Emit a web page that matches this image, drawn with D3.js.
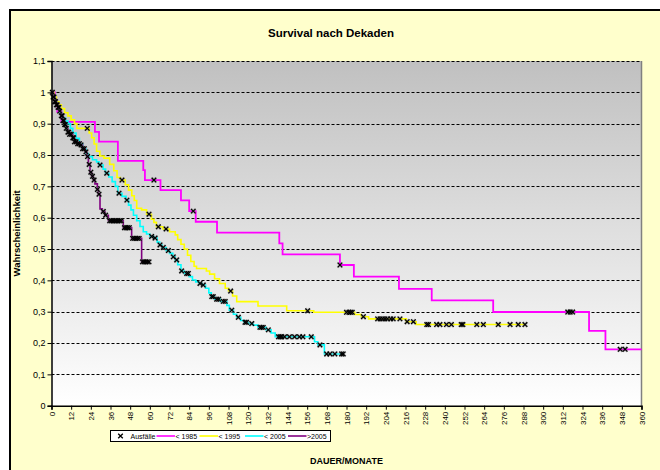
<!DOCTYPE html>
<html>
<head>
<meta charset="utf-8">
<script src="https://cdn.jsdelivr.net/npm/d3@7"></script>
<style>
  body { margin: 0; background: #fff; }
  svg { display: block; font-family: Arial, "Liberation Sans", sans-serif; }
</style>
</head>
<body>
<div id="chart"></div>
<script>
// Kaplan-Meier Stufen: Zeitpunkt (Monate) und Überleben danach
const t1985 = [0, 2, 3.5, 6, 26.5, 29, 40.5, 56, 57, 66.5, 79, 84, 88, 101, 139, 141, 176, 184.5, 212, 232, 269.5, 328, 338, 360];
const s1985 = [1, 0.969, 0.938, 0.906, 0.874, 0.843, 0.781, 0.752, 0.72, 0.688, 0.655, 0.621, 0.587, 0.552, 0.518, 0.483, 0.449, 0.412, 0.373, 0.336, 0.299, 0.239, 0.18, 0.18];
const c1985 = [62.5, 86.5, 176, 315, 316.5, 318, 347, 350];

const t1995 = [0, 1.5, 3, 4.5, 6, 8, 10, 12, 14, 15.5, 23, 24.5, 26, 27.5, 29.5, 32, 35.5, 38, 40, 42, 45, 47, 49, 50.5, 52, 55, 58, 61, 62.5, 64, 68, 72, 75.5, 77, 79, 81, 83, 85, 87, 88.5, 94.5, 96.5, 99.5, 102.5, 106, 108, 110.5, 113, 126, 143.5, 160, 185, 189, 193.5, 216.5, 222.5, 289];
const s1995 = [1, 0.985, 0.97, 0.96, 0.948, 0.935, 0.925, 0.912, 0.9, 0.885, 0.87, 0.855, 0.835, 0.812, 0.797, 0.79, 0.77, 0.75, 0.728, 0.72, 0.705, 0.688, 0.67, 0.655, 0.63, 0.625, 0.611, 0.595, 0.585, 0.571, 0.564, 0.555, 0.545, 0.53, 0.515, 0.5, 0.48, 0.46, 0.445, 0.438, 0.43, 0.42, 0.405, 0.39, 0.375, 0.366, 0.35, 0.332, 0.318, 0.303, 0.298, 0.291, 0.284, 0.277, 0.268, 0.259, 0.259];
const c1995 = [21.8, 43, 59.5, 65.2, 69.9, 109.3, 156.3, 180, 181.5, 182.5, 183.5, 190.3, 199, 200.5, 202, 203.5, 205, 207, 208.5, 212.6, 217, 220.8, 229, 230, 235, 237, 241, 244, 250, 251, 259.5, 263.5, 272.6, 279.8, 284.8, 288.9];

const t2005 = [0, 1, 2, 3, 4, 5, 6, 7, 8.5, 10, 11.5, 13, 15, 17, 19, 21, 22.5, 25, 27.5, 29, 31.5, 33, 35, 37, 39, 40.5, 43, 45.5, 47, 48.5, 50, 52, 54, 56, 58, 60, 62.5, 64.5, 66, 67.5, 70, 72, 74, 75.5, 77, 79, 81, 84, 86, 88, 90, 92, 94, 96, 97.5, 99.5, 103, 107, 108.5, 111, 113, 115.5, 117.5, 120, 123, 126, 131, 134, 136.5, 160.5, 162.5, 166.5, 178];
const s2005 = [1, 0.985, 0.972, 0.96, 0.948, 0.937, 0.928, 0.918, 0.908, 0.9, 0.885, 0.87, 0.853, 0.835, 0.82, 0.805, 0.795, 0.785, 0.778, 0.768, 0.755, 0.742, 0.73, 0.715, 0.7, 0.678, 0.668, 0.656, 0.64, 0.625, 0.608, 0.59, 0.572, 0.555, 0.548, 0.54, 0.535, 0.522, 0.513, 0.505, 0.495, 0.486, 0.475, 0.465, 0.45, 0.43, 0.422, 0.412, 0.401, 0.395, 0.39, 0.385, 0.375, 0.36, 0.348, 0.34, 0.333, 0.32, 0.305, 0.292, 0.282, 0.272, 0.266, 0.262, 0.257, 0.25, 0.242, 0.232, 0.22, 0.204, 0.194, 0.165, 0.165];
const c2005 = [29.6, 33.7, 41.2, 46, 61.1, 63.2, 66.2, 68.2, 71.3, 74.3, 76.4, 79.4, 82.5, 83.5, 90.6, 92.6, 97.8, 98.7, 100.8, 102, 104.8, 106, 110, 114, 118.1, 119, 122.2, 127.2, 128.2, 129.2, 132.3, 138.5, 139.5, 140.5, 142.2, 145.2, 148.3, 151.3, 153.4, 158.5, 163.8, 167.9, 169.9, 172.9, 177, 178];

const tNach = [0, 1, 2, 3, 4, 5, 6, 7, 8, 9, 10, 11, 13, 14, 16, 17.5, 19, 20.5, 21.5, 22.5, 23.5, 24.5, 25.5, 26.5, 28, 28.6, 29.6, 31, 32.6, 34.7, 43.8, 48.9, 55, 60.1];
const sNach = [1, 0.985, 0.97, 0.96, 0.952, 0.94, 0.925, 0.91, 0.897, 0.885, 0.873, 0.866, 0.855, 0.842, 0.836, 0.832, 0.82, 0.81, 0.795, 0.77, 0.745, 0.732, 0.72, 0.708, 0.69, 0.675, 0.628, 0.62, 0.608, 0.59, 0.568, 0.534, 0.459, 0.459];
const cNach = [0.5, 1, 1.5, 2, 2.5, 3, 3.5, 4, 4.5, 5, 6, 6.5, 7, 7.5, 8, 8.5, 9, 10, 10.5, 11, 12, 13, 13.5, 14, 15, 16, 17, 18, 19, 20, 21, 22, 23, 24, 25, 26, 28, 29, 31.6, 33, 35.5, 36.5, 37.5, 38.5, 39.5, 40.5, 41.5, 42.5, 44.5, 45.5, 46.5, 47.5, 49.5, 50.5, 51.5, 52.5, 53.5, 55.5, 56.5, 57.5, 58.5, 59.5];

const xTicks = d3.range(0, 361, 12);
const yTicks = [0, 0.1, 0.2, 0.3, 0.4, 0.5, 0.6, 0.7, 0.8, 0.9, 1, 1.1];

const series = [
  { name: '< 1985', t: t1985, s: s1985, cens: c1985, color: '#FF00FF', width: 1.8 },
  { name: '< 1995', t: t1995, s: s1995, cens: c1995, color: '#FFFF00', width: 1.6 },
  { name: '< 2005', t: t2005, s: s2005, cens: c2005, color: '#00FFFF', width: 1.6 },
  { name: '>2005', t: tNach, s: sNach, cens: cNach, color: '#800080', width: 1.6 },
];

// Wert der Treppenfunktion an Zeitpunkt t
function survAt(T, S, t) {
  let i = d3.bisectRight(T, t) - 1;
  if (i < 0) i = 0;
  return S[i];
}

const width = 660, height = 470;
const plot = { left: 51.5, right: 641.5, top: 61, bottom: 405.7 };

const svg = d3.select('#chart').append('svg')
  .attr('width', width)
  .attr('height', height);

// Diagrammfläche (rechts/unten abgeschnitten)
svg.append('rect')
  .attr('x', 10).attr('y', 10)
  .attr('width', 680).attr('height', 500)
  .attr('fill', '#FFFFCC')
  .attr('stroke', '#000')
  .attr('stroke-width', 2);

const grad = svg.append('defs').append('linearGradient')
  .attr('id', 'bg').attr('x1', 0).attr('y1', 0).attr('x2', 0).attr('y2', 1);
grad.append('stop').attr('offset', '0%').attr('stop-color', '#C0C0C0');
grad.append('stop').attr('offset', '100%').attr('stop-color', '#FFFFFF');

const xScale = d3.scaleLinear().domain([0, 360]).range([plot.left, plot.right]);
const yScale = d3.scaleLinear().domain([0, 1.1]).range([plot.bottom, plot.top]);

svg.append('rect')
  .attr('x', plot.left).attr('y', plot.top)
  .attr('width', plot.right - plot.left)
  .attr('height', plot.bottom - plot.top)
  .attr('fill', 'url(#bg)');

// Gitterlinien
svg.append('g')
  .selectAll('line')
  .data(yTicks.filter(d => d > 0))
  .join('line')
  .attr('x1', plot.left).attr('x2', plot.right)
  .attr('y1', d => Math.round(yScale(d)) + 0.5)
  .attr('y2', d => Math.round(yScale(d)) + 0.5)
  .attr('stroke', '#000')
  .attr('stroke-width', 1)
  .attr('stroke-dasharray', '3,2');

svg.append('line')
  .attr('x1', plot.right).attr('x2', plot.right)
  .attr('y1', plot.top).attr('y2', plot.bottom)
  .attr('stroke', '#808080').attr('stroke-width', 1.5);

// Kurven
const line = d3.line()
  .x(d => xScale(d[0]))
  .y(d => yScale(d[1]))
  .curve(d3.curveStepAfter);

const curves = svg.append('g');
series.forEach(sr => {
  curves.append('path')
    .datum(sr.t.map((t, i) => [t, sr.s[i]]))
    .attr('fill', 'none')
    .attr('stroke', sr.color)
    .attr('stroke-width', sr.width)
    .attr('d', line);
});

// Ausfälle (x-Markierungen), mit grauem Rand wie im Original
const cross = 'M-2.3,-2.3L2.3,2.3M-2.3,2.3L2.3,-2.3';
const marks = svg.append('g');
series.forEach(sr => {
  const pos = d => `translate(${xScale(d)},${yScale(survAt(sr.t, sr.s, d))})`;
  marks.selectAll(null)
    .data(sr.cens)
    .join('path')
    .attr('transform', pos)
    .attr('d', cross)
    .attr('fill', 'none')
    .attr('stroke', '#777')
    .attr('stroke-opacity', 0.45)
    .attr('stroke-width', 2.6);
  marks.selectAll(null)
    .data(sr.cens)
    .join('path')
    .attr('transform', pos)
    .attr('d', cross)
    .attr('fill', 'none')
    .attr('stroke', '#000')
    .attr('stroke-width', 1.2);
});

// Achsen
const yAxis = svg.append('g')
  .attr('transform', `translate(${plot.left},0)`)
  .call(d3.axisLeft(yScale).tickValues(yTicks).tickSize(4).tickPadding(2)
    .tickFormat(d => String(+d.toFixed(1)).replace('.', ',')));
yAxis.select('.domain').attr('stroke', '#000').attr('stroke-width', 1.5);
yAxis.selectAll('text').style('font-size', '9px').attr('fill', '#000')
  .style('font-family', 'Arial, "Liberation Sans", sans-serif');

const xAxis = svg.append('g')
  .attr('transform', `translate(0,${plot.bottom})`)
  .call(d3.axisBottom(xScale).tickValues(xTicks).tickSize(4));
xAxis.select('.domain').attr('stroke', '#000').attr('stroke-width', 1.5);
xAxis.selectAll('text')
  .attr('transform', 'rotate(-90)')
  .attr('text-anchor', 'end')
  .attr('x', -6).attr('y', 0).attr('dy', '0.33em')
  .attr('fill', '#000')
  .style('font-size', '8px')
  .style('font-family', 'Arial, "Liberation Sans", sans-serif');

// Titel
svg.append('text')
  .attr('x', 331).attr('y', 37)
  .attr('text-anchor', 'middle')
  .style('font-size', '11.5px').style('font-weight', 'bold')
  .text('Survival nach Dekaden');

svg.append('text')
  .attr('transform', `translate(20,${(plot.top + plot.bottom) / 2}) rotate(-90)`)
  .attr('text-anchor', 'middle')
  .style('font-size', '9.5px').style('font-weight', 'bold')
  .text('Wahrscheinlichkeit');

svg.append('text')
  .attr('x', (plot.left + plot.right) / 2).attr('y', 464)
  .attr('text-anchor', 'middle')
  .style('font-size', '9px').style('font-weight', 'bold')
  .text('DAUER/MONATE');

// Legende
const legend = svg.append('g');
legend.append('rect')
  .attr('x', 110.5).attr('y', 430.5)
  .attr('width', 220).attr('height', 11)
  .attr('fill', '#fff').attr('stroke', '#000').attr('stroke-width', 1);

legend.append('path')
  .attr('transform', 'translate(120.5,436)')
  .attr('d', cross).attr('stroke', '#000').attr('stroke-width', 1.3);
legend.append('text')
  .attr('x', 130.5).attr('y', 438.6)
  .style('font-size', '7px')
  .text('Ausfälle');

const legendX = [156.5, 199.5, 245, 288];
series.forEach((sr, i) => {
  legend.append('line')
    .attr('x1', legendX[i]).attr('x2', legendX[i] + 18.5)
    .attr('y1', 436).attr('y2', 436)
    .attr('stroke', sr.color).attr('stroke-width', 1.6);
  legend.append('text')
    .attr('x', legendX[i] + 19).attr('y', 438.6)
    .style('font-size', '7px')
    .text(sr.name);
});
</script>
</body>
</html>
